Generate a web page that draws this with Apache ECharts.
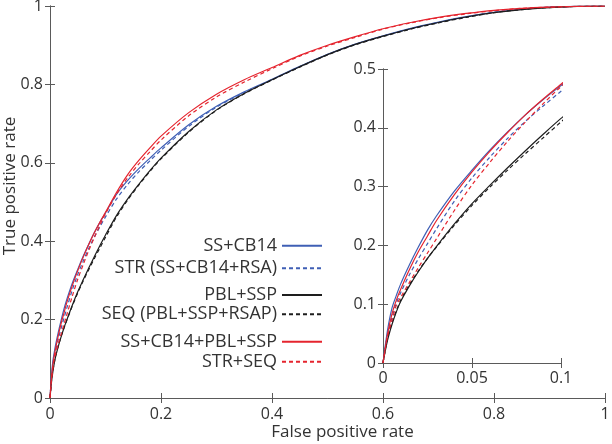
<!DOCTYPE html>
<html>
<head>
<meta charset="utf-8">
<script src="https://cdn.jsdelivr.net/npm/echarts@6/dist/echarts.min.js"></script>
<style>
html,body{margin:0;padding:0;background:#fff;}
#chart{width:612px;height:444px;}
</style>
</head>
<body>
<div id="chart"></div>
<script>
// False positive rate sample points
const fpr = [0, 0.0025, 0.005, 0.0075, 0.01, 0.015, 0.02, 0.025, 0.03, 0.04, 0.05, 0.06, 0.07, 0.08, 0.09, 0.1,
  0.12, 0.14, 0.16, 0.18, 0.2, 0.25, 0.3, 0.35, 0.4, 0.45, 0.5, 0.55, 0.6, 0.65, 0.7, 0.75, 0.8, 0.85, 0.9, 0.95, 1];

// True positive rates
const ssCb14 = [0, 0.055, 0.093, 0.115, 0.135, 0.168, 0.198, 0.226, 0.25, 0.292, 0.328, 0.362, 0.393, 0.422, 0.448, 0.472,
  0.52, 0.555, 0.585, 0.612, 0.638, 0.697, 0.744, 0.781, 0.813, 0.846, 0.877, 0.903, 0.924, 0.943, 0.959, 0.973, 0.984, 0.992, 0.997, 0.999, 1];
const strSeries = [0, 0.045, 0.077, 0.102, 0.12, 0.151, 0.178, 0.203, 0.228, 0.275, 0.315, 0.35, 0.382, 0.411, 0.437, 0.462,
  0.508, 0.545, 0.577, 0.605, 0.632, 0.693, 0.742, 0.779, 0.812, 0.845, 0.876, 0.902, 0.923, 0.942, 0.958, 0.972, 0.984, 0.992, 0.997, 0.999, 1];
const pblSsp = [0, 0.038, 0.065, 0.087, 0.105, 0.132, 0.156, 0.178, 0.198, 0.236, 0.271, 0.302, 0.332, 0.361, 0.389, 0.416,
  0.466, 0.508, 0.545, 0.58, 0.612, 0.68, 0.735, 0.777, 0.812, 0.845, 0.876, 0.902, 0.923, 0.942, 0.958, 0.972, 0.983, 0.991, 0.996, 0.999, 1];
const seqSeries = [0, 0.042, 0.068, 0.089, 0.107, 0.134, 0.157, 0.178, 0.197, 0.234, 0.268, 0.299, 0.328, 0.356, 0.383, 0.41,
  0.462, 0.505, 0.543, 0.578, 0.61, 0.678, 0.734, 0.776, 0.811, 0.844, 0.875, 0.901, 0.922, 0.941, 0.957, 0.971, 0.983, 0.991, 0.996, 0.999, 1];
const combined = [0, 0.048, 0.083, 0.107, 0.126, 0.16, 0.19, 0.216, 0.242, 0.286, 0.325, 0.36, 0.392, 0.422, 0.449, 0.474,
  0.525, 0.57, 0.606, 0.638, 0.668, 0.728, 0.775, 0.812, 0.843, 0.874, 0.9, 0.922, 0.942, 0.958, 0.971, 0.981, 0.989, 0.994, 0.997, 0.999, 1];
const strSeq = [0, 0.045, 0.072, 0.098, 0.112, 0.138, 0.163, 0.187, 0.211, 0.259, 0.303, 0.341, 0.377, 0.41, 0.441, 0.47,
  0.52, 0.562, 0.597, 0.628, 0.658, 0.72, 0.768, 0.806, 0.84, 0.872, 0.898, 0.92, 0.941, 0.957, 0.97, 0.98, 0.988, 0.994, 0.997, 0.999, 1];

const seriesNames = ['SS+CB14', 'STR (SS+CB14+RSA)', 'PBL+SSP', 'SEQ (PBL+SSP+RSAP)', 'SS+CB14+PBL+SSP', 'STR+SEQ'];
const seriesValues = [ssCb14, strSeries, pblSsp, seqSeries, combined, strSeq];

const mainTicksX = [0, 0.2, 0.4, 0.6, 0.8, 1];
const insetTicksX = [0, 0.05, 0.1];
const insetTicksY = [0, 0.1, 0.2, 0.3, 0.4, 0.5];

const colors = ['#3f5fb5', '#3f5fb5', '#1e1e1e', '#1e1e1e', '#e5242e', '#e5242e'];
const dashed = [false, true, false, true, false, true];
const legendCenters = [245.7, 268.3, 295, 314.3, 341.7, 361.7];

const FONT = '"Open Sans", "Noto Sans", sans-serif';
const axisColor = '#5a5a5a';
const textColor = '#333';

function pairs(vals) { return fpr.map((x, i) => [x, vals[i]]); }

function axisBase(extra) {
  return Object.assign({
    type: 'value',
    axisLine: { show: true, lineStyle: { color: axisColor, width: 1 } },
    axisTick: { show: true, inside: true, length: 5, lineStyle: { color: axisColor } },
    splitLine: { show: false },
    axisLabel: { color: textColor, fontFamily: FONT, fontSize: 16 }
  }, extra);
}

const xAxes = [
  axisBase({ gridIndex: 0, position: 'bottom', min: 0, max: 1, interval: 0.2,
    axisLabel: { color: textColor, fontFamily: FONT, fontSize: 16, margin: 8 },
    name: 'False positive rate', nameLocation: 'middle', nameGap: 26, nameMoveOverlap: false,
    nameTextStyle: { color: textColor, fontFamily: FONT, fontSize: 17, padding: [0, 0, 0, 30] } }),
  axisBase({ gridIndex: 0, position: 'top', min: 0, max: 1, interval: 0.2, axisLabel: { show: false } }),
  axisBase({ gridIndex: 1, position: 'bottom', min: 0, max: 0.1, interval: 0.05,
    axisLabel: { color: textColor, fontFamily: FONT, fontSize: 16, margin: 7 } }),
  axisBase({ gridIndex: 1, position: 'top', min: 0, max: 0.1, interval: 0.05, axisLabel: { show: false } })
];
const yAxes = [
  axisBase({ gridIndex: 0, position: 'left', min: 0, max: 1, interval: 0.2,
    axisLabel: { color: textColor, fontFamily: FONT, fontSize: 16, margin: 7 },
    name: 'True positive rate', nameLocation: 'middle', nameGap: 31, nameMoveOverlap: false,
    nameTextStyle: { color: textColor, fontFamily: FONT, fontSize: 17, padding: [0, 0, 0, 32] } }),
  axisBase({ gridIndex: 0, position: 'right', min: 0, max: 1, interval: 0.2, axisLabel: { show: false } }),
  axisBase({ gridIndex: 1, position: 'left', min: 0, max: 0.5, interval: 0.1,
    axisLabel: { color: textColor, fontFamily: FONT, fontSize: 16, margin: 7 } }),
  axisBase({ gridIndex: 1, position: 'right', min: 0, max: 0.5, interval: 0.1, axisLabel: { show: false } })
];

const series = [];
seriesNames.forEach((name, i) => {
  [0, 2].forEach(axisIdx => {
    series.push({
      name: name,
      type: 'line',
      xAxisIndex: axisIdx,
      yAxisIndex: axisIdx,
      data: pairs(seriesValues[i]),
      symbol: 'none',
      smooth: 0.3,
      clip: true,
      color: colors[i],
      lineStyle: { color: colors[i], width: 1.2, type: dashed[i] ? [4, 3] : 'solid' },
      z: 3
    });
  });
});

const legends = seriesNames.map((name, i) => ({
  data: [name],
  orient: 'horizontal',
  align: 'right',
  right: 289,
  top: legendCenters[i] - 11,
  padding: 0,
  itemWidth: 40,
  itemHeight: 14,
  selectedMode: false,
  itemStyle: { opacity: 0 },
  textStyle: { color: textColor, fontFamily: FONT, fontSize: 18, lineHeight: 22 }
}));

const chart = echarts.init(document.getElementById('chart'), null, { renderer: 'canvas' });
chart.setOption({
  animation: false,
  backgroundColor: '#fff',
  grid: [
    { left: 50, top: 6, width: 555, height: 392, containLabel: false, outerBoundsMode: 'none' },
    { left: 383, top: 69, width: 178, height: 294, containLabel: false, outerBoundsMode: 'none', show: true, backgroundColor: '#fff', borderWidth: 0 }
  ],
  xAxis: xAxes,
  yAxis: yAxes,
  legend: legends,
  series: series
});
</script>
</body>
</html>
